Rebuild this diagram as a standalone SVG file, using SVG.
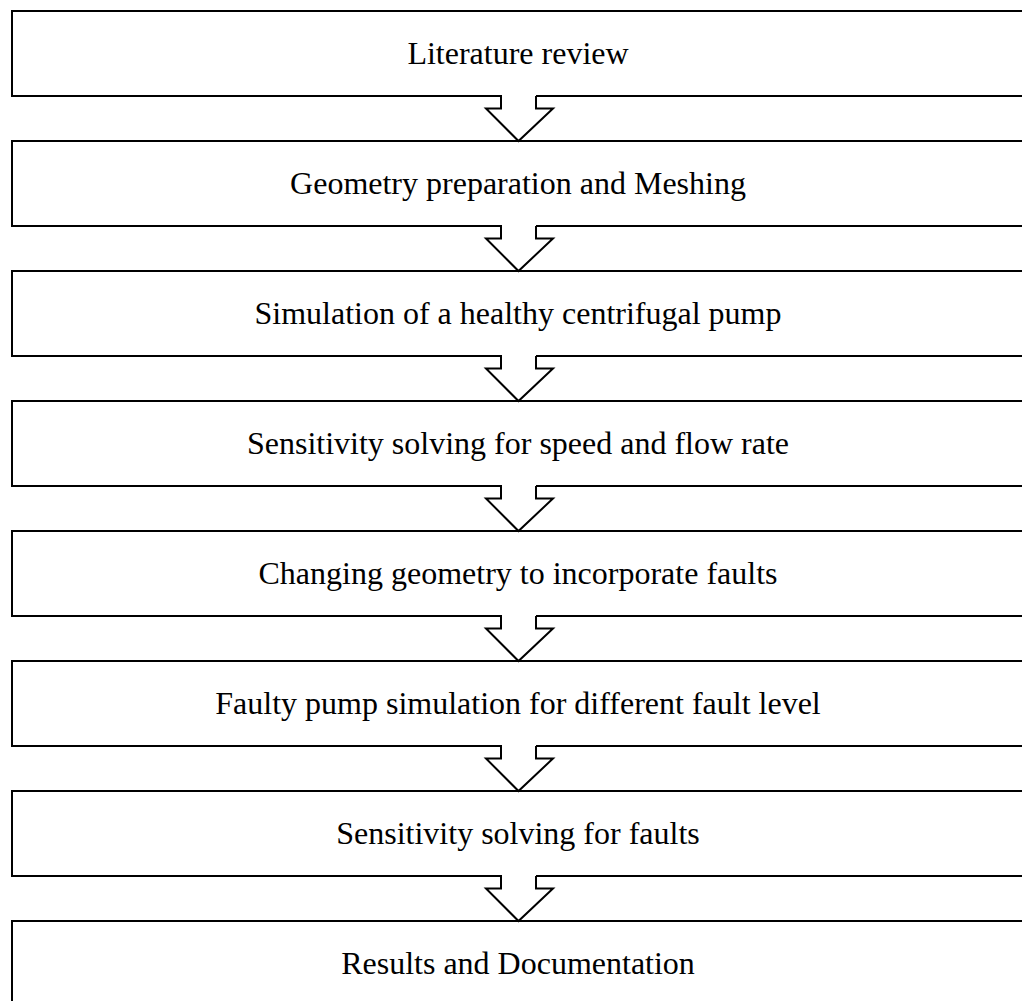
<svg xmlns="http://www.w3.org/2000/svg" width="1022" height="1001" viewBox="0 0 1022 1001">
<style>
.box{fill:#fff;stroke:#000;stroke-width:2}
.lbl{font-family:"Liberation Serif","Times New Roman",serif;font-size:32px;fill:#000;text-anchor:middle}
.af{fill:#fff;stroke:none}
.as{fill:none;stroke:#000;stroke-width:2;stroke-linejoin:miter}
</style>
<rect width="1022" height="1001" fill="#fff"/>
<g id="n1"><rect class="box" x="12" y="11" width="1030" height="85"/><text class="lbl" x="518" y="64">Literature review</text></g>
<g id="n2"><rect class="box" x="12" y="141" width="1030" height="85"/><text class="lbl" x="518" y="194">Geometry preparation and Meshing</text></g>
<g id="n3"><rect class="box" x="12" y="271" width="1030" height="85"/><text class="lbl" x="518" y="324">Simulation of a healthy centrifugal pump</text></g>
<g id="n4"><rect class="box" x="12" y="401" width="1030" height="85"/><text class="lbl" x="518" y="454">Sensitivity solving for speed and flow rate</text></g>
<g id="n5"><rect class="box" x="12" y="531" width="1030" height="85"/><text class="lbl" x="518" y="584">Changing geometry to incorporate faults</text></g>
<g id="n6"><rect class="box" x="12" y="661" width="1030" height="85"/><text class="lbl" x="518" y="714">Faulty pump simulation for different fault level</text></g>
<g id="n7"><rect class="box" x="12" y="791" width="1030" height="85"/><text class="lbl" x="518" y="844">Sensitivity solving for faults</text></g>
<g id="n8"><rect class="box" x="12" y="921" width="1030" height="100"/><text class="lbl" x="518" y="974">Results and Documentation</text></g>
<g id="connectors">
<g transform="translate(0,0)"><path class="af" d="M502,94 V108.5 H486 L518.5,141 L553,108.5 H536 V94 Z"/><path class="as" d="M501,96 V108.5 H486 L518.5,141 L553,108.5 H536 V96"/></g>
<g transform="translate(0,130)"><path class="af" d="M502,94 V108.5 H486 L518.5,141 L553,108.5 H536 V94 Z"/><path class="as" d="M501,96 V108.5 H486 L518.5,141 L553,108.5 H536 V96"/></g>
<g transform="translate(0,260)"><path class="af" d="M502,94 V108.5 H486 L518.5,141 L553,108.5 H536 V94 Z"/><path class="as" d="M501,96 V108.5 H486 L518.5,141 L553,108.5 H536 V96"/></g>
<g transform="translate(0,390)"><path class="af" d="M502,94 V108.5 H486 L518.5,141 L553,108.5 H536 V94 Z"/><path class="as" d="M501,96 V108.5 H486 L518.5,141 L553,108.5 H536 V96"/></g>
<g transform="translate(0,520)"><path class="af" d="M502,94 V108.5 H486 L518.5,141 L553,108.5 H536 V94 Z"/><path class="as" d="M501,96 V108.5 H486 L518.5,141 L553,108.5 H536 V96"/></g>
<g transform="translate(0,650)"><path class="af" d="M502,94 V108.5 H486 L518.5,141 L553,108.5 H536 V94 Z"/><path class="as" d="M501,96 V108.5 H486 L518.5,141 L553,108.5 H536 V96"/></g>
<g transform="translate(0,780)"><path class="af" d="M502,94 V108.5 H486 L518.5,141 L553,108.5 H536 V94 Z"/><path class="as" d="M501,96 V108.5 H486 L518.5,141 L553,108.5 H536 V96"/></g>
</g>
</svg>
